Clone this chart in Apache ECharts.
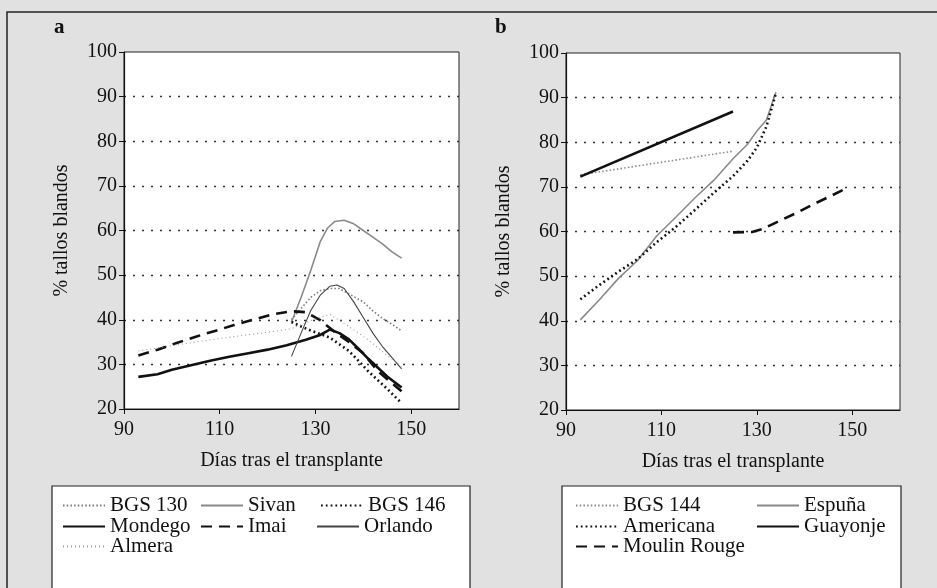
<!DOCTYPE html>
<html>
<head>
<meta charset="utf-8">
<script src="https://cdn.jsdelivr.net/npm/echarts@6/dist/echarts.min.js"></script>
<style>
html,body{margin:0;padding:0;background:#e1e1e1;}
#c{width:937px;height:588px;}
</style>
</head>
<body>
<div id="c"></div>
<script>
// ---------- data ----------
const yTicks = [20, 30, 40, 50, 60, 70, 80, 90, 100];
const xTicks = [90, 110, 130, 150];

// Panel a
const bgs130 = [[125,40],[127,42.5],[129,45],[131,46.5],[133,47],[135,47],[137,45.8],[140,44],[142,42],[144,40.3],[146,39],[148,37.5]];
const sivan = [[125,39.5],[127,45],[129,51],[131,57.5],[132.5,60.5],[134,62],[136,62.3],[138,61.5],[140,60],[142,58.5],[144,57],[146,55.2],[148,53.8]];
const bgs146 = [[125,39.5],[127,38.5],[129,37.6],[131,36.8],[133,36],[135,34.5],[137,33],[139,30.8],[141,28.5],[143,26.5],[145,24.5],[148,21.3]];
const mondego = [[93,27.2],[97,27.8],[100,28.8],[104,29.8],[108,30.8],[112,31.7],[116,32.5],[120,33.3],[124,34.3],[128,35.5],[131,36.6],[133,37.8],[135,37],[137,35.6],[139,33.5],[141,31.3],[143,29.3],[145,27.3],[148,24.8]];
const imai = [[93,32],[97,33.3],[101,34.8],[105,36.2],[109,37.5],[113,38.8],[117,40],[121,41.2],[125,41.9],[128,41.7],[131,39.9],[134,37.3],[137,35],[140,32.5],[143,28.5],[146,25.8],[148,24]];
const orlando = [[125,31.8],[127,37],[129,42],[131,45.5],[133,47.5],[134.5,47.8],[136,47],[138,44],[140,40.5],[142,37],[144,34],[146,31.5],[148,29]];
const almera = [[93,33],[100,34.2],[110,35.8],[120,37.2],[125,38],[129,39.8],[133,41.2],[137,38.5],[141,35.5],[145,32],[148,29.5]];

// Panel b
const bgs144 = [[93,72.7],[125,78]];
const espuna = [[93,40.2],[97,44.7],[101,49.5],[105,53.5],[109,59],[113,63.2],[117,67.5],[121,71.5],[125,76.3],[128,79.5],[130,82.5],[132,85],[134,91.2]];
const americana = [[93,44.8],[97,48],[101,51],[105,53.8],[109,57.6],[113,61],[117,64.8],[121,68.7],[125,72.4],[128,75.8],[130,78.8],[132,83.5],[134,91]];
const guayonje = [[93,72.3],[125,86.9]];
const moulinRouge = [[125,59.8],[129,59.9],[131,60.5],[134,62],[138,64],[142,66.2],[145,67.7],[148,69.3]];

const xTitle = 'Días tras el transplante';
const yTitle = '% tallos blandos';

// ---------- styles ----------
const FONT = 'Liberation Serif';
const styles = {
  'BGS 130': {color:'#7a7a7a', width:1.6, type:[1.5,2.2]},
  'Sivan': {color:'#8a8a8a', width:1.6, type:'solid'},
  'BGS 146': {color:'#111', width:2.6, type:[1.8,3]},
  'Mondego': {color:'#111', width:2.6, type:'solid'},
  'Imai': {color:'#111', width:2.6, type:[11,7]},
  'Orlando': {color:'#444', width:1.1, type:'solid'},
  'Almera': {color:'#9a9a9a', width:1.1, type:[1,3]},
  'BGS 144': {color:'#8a8a8a', width:1.6, type:[1.5,2.2]},
  'Espuña': {color:'#8a8a8a', width:1.6, type:'solid'},
  'Americana': {color:'#111', width:2.6, type:[1.8,3]},
  'Guayonje': {color:'#111', width:2.6, type:'solid'},
  'Moulin Rouge': {color:'#111', width:2.6, type:[11,7]}
};

function mk(name, data, idx){
  const s = styles[name];
  return {
    name, type:'line', data, xAxisIndex:idx, yAxisIndex:idx,
    symbol:'none', showSymbol:false, smooth:false, silent:true,
    lineStyle:{color:s.color, width:s.width, type:s.type},
    itemStyle:{color:s.color},
    animation:false
  };
}

const series = [
  mk('BGS 130', bgs130, 0), mk('Sivan', sivan, 0), mk('BGS 146', bgs146, 0),
  mk('Mondego', mondego, 0), mk('Imai', imai, 0), mk('Orlando', orlando, 0),
  mk('Almera', almera, 0),
  mk('BGS 144', bgs144, 1), mk('Espuña', espuna, 1), mk('Americana', americana, 1),
  mk('Guayonje', guayonje, 1), mk('Moulin Rouge', moulinRouge, 1)
];

const grids = [
  {left:124, top:52, width:335, height:357, show:true, backgroundColor:'#fff', borderColor:'#222', borderWidth:1},
  {left:566, top:53, width:334, height:357, show:true, backgroundColor:'#fff', borderColor:'#222', borderWidth:1}
];

function xAx(i){
  return {
    type:'value', gridIndex:i, min:xTicks[0], max:160, interval:20,
    name:xTitle, nameLocation:'middle', nameGap:42,
    nameTextStyle:{fontFamily:FONT, fontSize:20, color:'#111'},
    axisLine:{show:true, lineStyle:{color:'#111', width:1.2}},
    axisTick:{show:true, inside:false, length:5, lineStyle:{color:'#111'}, customValues:xTicks},
    axisLabel:{fontFamily:FONT, fontSize:20, color:'#111', margin:11, customValues:xTicks},
    splitLine:{show:false}
  };
}
function yAx(i){
  return {
    type:'value', gridIndex:i, min:yTicks[0], max:yTicks[yTicks.length-1], interval:10,
    name:yTitle, nameLocation:'middle', nameGap:52, nameRotate:90,
    nameTextStyle:{fontFamily:FONT, fontSize:20, color:'#111'},
    axisLine:{show:true, lineStyle:{color:'#111', width:1.2}},
    axisTick:{show:true, inside:false, length:5, lineStyle:{color:'#111'}},
    axisLabel:{fontFamily:FONT, fontSize:20, color:'#111', margin:7},
    splitLine:{show:true, showMinLine:false, showMaxLine:false, lineStyle:{color:'#333', width:1.4, type:[2,7]}}
  };
}

// legend layout (positions only)
const legA = [
  ['BGS 130', 62, 495], ['Sivan', 200, 495], ['BGS 146', 320, 495],
  ['Mondego', 62, 516], ['Imai', 200, 516], ['Orlando', 316, 516],
  ['Almera', 62, 536]
];
const legB = [
  ['BGS 144', 575, 495], ['Espuña', 756, 495],
  ['Americana', 575, 516], ['Guayonje', 756, 516],
  ['Moulin Rouge', 575, 536]
];
const legends = legA.concat(legB).map(([n, l, t]) => ({
  data:[n], left:l, top:t, itemWidth:42, itemHeight:20, itemGap:6,
  padding:0, selectedMode:false,
  itemStyle:{opacity:0, borderWidth:0},
  textStyle:{fontFamily:FONT, fontSize:21, color:'#111'}
}));

const option = {
  backgroundColor:'#e1e1e1',
  animation:false,
  grid:grids,
  xAxis:[xAx(0), xAx(1)],
  yAxis:[yAx(0), yAx(1)],
  legend:legends,
  series,
  graphic:[
    {type:'rect', shape:{x:7, y:12, width:960, height:600}, style:{fill:'none', stroke:'#222', lineWidth:1.5}, z:-10, silent:true},
    {type:'rect', shape:{x:52, y:486, width:418, height:120}, style:{fill:'#fff', stroke:'#222', lineWidth:1.2}, z:-5, silent:true},
    {type:'rect', shape:{x:562, y:486, width:339, height:120}, style:{fill:'#fff', stroke:'#222', lineWidth:1.2}, z:-5, silent:true},
    {type:'text', left:54, top:17, style:{text:'a', font:'bold 21px "Liberation Serif"', fill:'#111'}},
    {type:'text', left:495, top:17, style:{text:'b', font:'bold 21px "Liberation Serif"', fill:'#111'}}
  ]
};

const chart = echarts.init(document.getElementById('c'), null, {renderer:'canvas'});
chart.setOption(option);
</script>
</body>
</html>
